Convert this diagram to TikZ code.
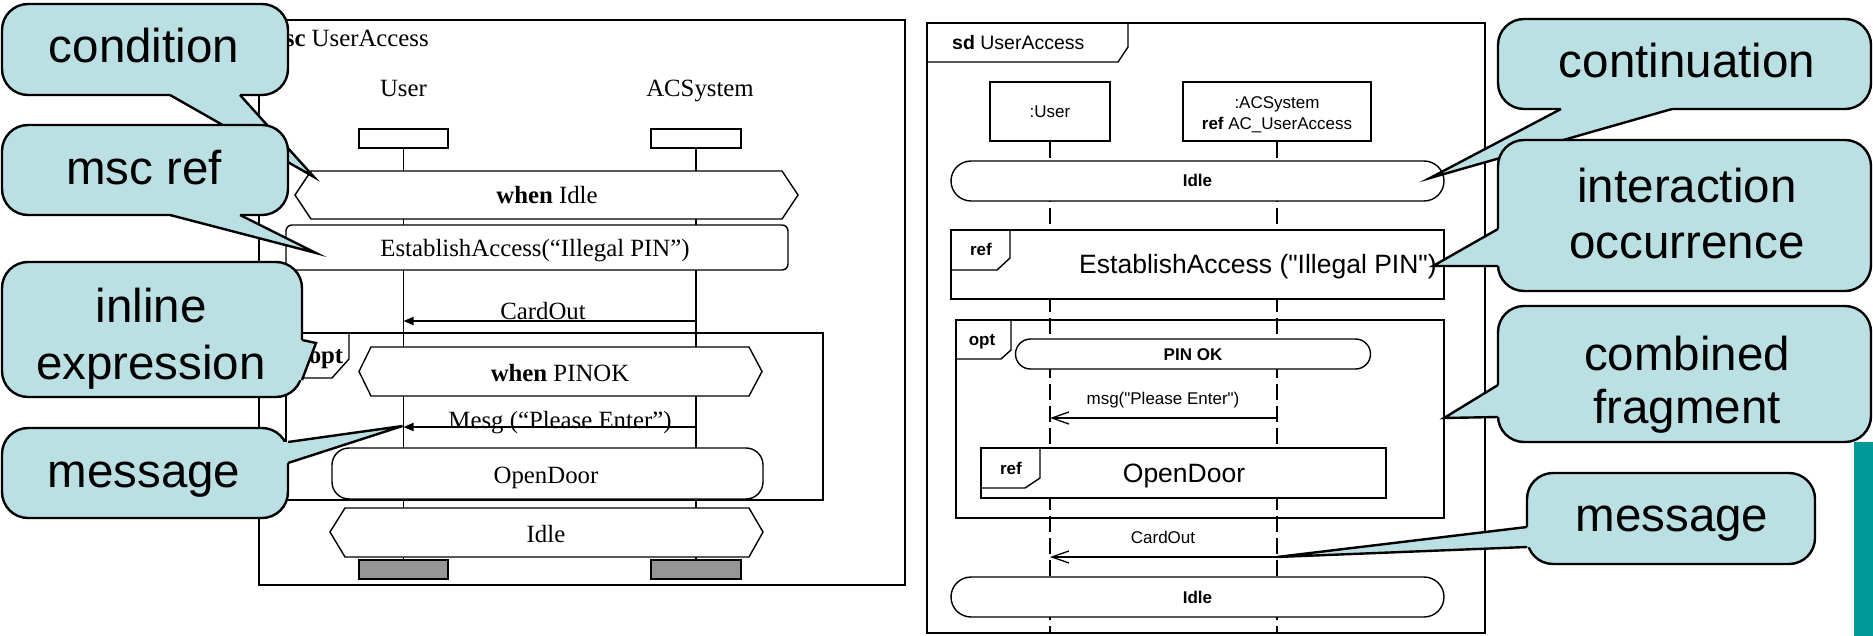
\documentclass[tikz,border=0pt]{standalone}
\usepackage{fontspec}
\setmainfont{Liberation Serif}
\newfontfamily\sansface{Liberation Sans}
\usetikzlibrary{arrows.meta}
\definecolor{callfill}{RGB}{187,224,227}
\definecolor{barteal}{RGB}{0,153,153}
\definecolor{stopgray}{RGB}{150,150,150}
% callout pointer: base point, tip, base point, then the two base points pushed into the box
\newcommand\calloutwedge[5]{%
  \fill[callfill] #1 -- #2 -- #3 -- #4 -- #5 -- cycle;
  \draw[wedgeline] #1 -- #2 -- #3;}
\begin{document}
\begin{tikzpicture}[x=1pt,y=-1pt,
  ln/.style={line width=1.4pt},
  mscfont/.style={font=\fontsize{24.8}{28}\selectfont, inner sep=0pt},
  sdsmall/.style={font=\sansface\fontsize{17}{20}\selectfont, inner sep=0pt},
  sdtitle/.style={font=\sansface\fontsize{19.5}{22}\selectfont, inner sep=0pt},
  sdbig/.style={font=\sansface\fontsize{26.5}{30}\selectfont, inner sep=0pt},
  calltext/.style={font=\sansface\fontsize{47.5}{55}\selectfont, inner sep=0pt},
  whitebox/.style={draw, line width=1.4pt, fill=white, inner sep=0pt},
  stopbox/.style={draw, line width=1.4pt, fill=stopgray, inner sep=0pt},
  stadium/.style={whitebox, rounded corners=#1},
  callbox/.style={draw, line width=2.4pt, fill=callfill, rounded corners=26, inner sep=0pt},
  wedgeline/.style={line width=2.4pt},
  msgfilled/.style={line width=1.8pt, -{Triangle[length=10pt,width=8pt]}},
  msgopen/.style={line width=1.3pt, -{Straight Barb[length=17pt,width=12pt]}},
  lifedash/.style={line width=1.3pt, dash pattern=on 16pt off 6pt},
]
\useasboundingbox (0,0) rectangle (1873,636);

% ---------------- MSC diagram ----------------
\draw[ln] (259,20) rectangle (905,585);
\node[mscfont, anchor=base west] (msctitle) at (264,47) {\textbf{msc} UserAccess};
\node[mscfont, anchor=base] (userlbl) at (403.5,97) {User};
\node[mscfont, anchor=base] (aclbl) at (700,97) {ACSystem};
\node[whitebox, minimum width=89, minimum height=19] (uhead) at (403.5,138.5) {};
\node[whitebox, minimum width=90, minimum height=19] (ahead) at (696,138.5) {};
\node[stopbox, minimum width=89, minimum height=19] (ustop) at (403.5,569.5) {};
\node[stopbox, minimum width=90, minimum height=19] (astop) at (696,569.5) {};
\draw[ln] (uhead.south) -- (ustop.north);
\draw[ln] (ahead.south) -- (astop.north);

% condition
\draw[ln, fill=white] (295,195) -- (311,171) -- (782,171) -- (798,195) -- (782,219) -- (311,219) -- cycle;
\node[mscfont, anchor=base] (whenidle) at (547,204) {\textbf{when} Idle};
% reference
\node[whitebox, rounded corners=6, minimum width=502, minimum height=45] (estab) at (537,247.5) {};
\node[mscfont, anchor=base] (estabtxt) at (535,257) {EstablishAccess(“Illegal PIN”)};
% message CardOut
\coordinate (cardA) at (696,321);
\coordinate (cardU) at (403.5,321);
\draw[msgfilled] (cardA) -- (cardU);
\node[mscfont, anchor=base] (cardlbl) at (543,319) {CardOut};
% inline expression opt
\draw[ln] (286,333) rectangle (823,500);
\draw[ln] (349,333) -- (349,359) -- (332,378) -- (286,378);
\node[mscfont, anchor=base] (optlbl) at (326,363) {\textbf{opt}};
\draw[ln, fill=white] (359,371.5) -- (371,347) -- (749,347) -- (762,371.5) -- (749,396) -- (371,396) -- cycle;
\node[mscfont, anchor=base] (whenpin) at (560,381) {\textbf{when} PINOK};
\coordinate (mesgA) at (696,427);
\coordinate (mesgU) at (403.5,427);
\draw[msgfilled] (mesgA) -- (mesgU);
\node[mscfont, anchor=base] (mesglbl) at (560,428) {Mesg (“Please Enter”)};
\node[whitebox, rounded corners=17, minimum width=431, minimum height=51] (opendoor) at (547.5,473.5) {};
\node[mscfont, anchor=base] (opendoortxt) at (546,483) {OpenDoor};
% final condition
\draw[ln, fill=white] (330,532) -- (345,508) -- (749,508) -- (763,532) -- (749,557) -- (345,557) -- cycle;
\node[mscfont, anchor=base] (idleleft) at (546,542) {Idle};

% ---------------- UML sequence diagram ----------------
\draw[ln] (927,23) rectangle (1485,633);
\draw[ln] (1128,23) -- (1128,47) -- (1118,62) -- (927,62);
\node[sdtitle, anchor=base west] (sdtitle) at (952,49.5) {\textbf{sd} UserAccess};
\node[whitebox, minimum width=120, minimum height=59] (suser) at (1050,111.5) {};
\node[sdsmall, anchor=base] (susertxt) at (1050,118) {:User};
\node[whitebox, minimum width=188, minimum height=59] (sac) at (1277,111.5) {};
\node[sdsmall, anchor=base] (sactxt) at (1277,109) {:ACSystem};
\node[sdsmall, anchor=base] (sacref) at (1277,130) {\textbf{ref} AC\_UserAccess};
\coordinate (ubottom) at (1050,633);
\coordinate (abottom) at (1277,633);
\draw[lifedash] (suser.south) -- (ubottom);
\draw[lifedash] (sac.south) -- (abottom);

% continuation
\node[stadium=20, minimum width=493, minimum height=40] (cont1) at (1197.5,181) {};
\node[sdsmall, anchor=base] (cont1txt) at (1197.5,187) {\textbf{Idle}};
% interaction occurrence
\node[whitebox, minimum width=493, minimum height=69] (refest) at (1197.5,264.5) {};
\draw[ln] (1010,230) -- (1010,258) -- (997,270) -- (951,270);
\node[sdsmall, anchor=base] (refest1) at (981,256) {\textbf{ref}};
\node[sdbig, anchor=base] (refest2) at (1258,273) {EstablishAccess ("Illegal PIN")};
% combined fragment opt
\draw[ln] (956,320) rectangle (1444,518);
\draw[ln] (1011,320) -- (1011,350) -- (1001,359) -- (956,359);
\node[sdsmall, anchor=base] (sdopt) at (982,345) {\textbf{opt}};
\node[stadium=15, minimum width=355, minimum height=30] (pinok) at (1193,354) {};
\node[sdsmall, anchor=base] (pinoktxt) at (1193,360) {\textbf{PIN OK}};
\coordinate (msgA) at (1277,418);
\coordinate (msgU) at (1050,418);
\draw[msgopen] (msgA) -- (msgU);
\node[sdsmall, anchor=base] (msglbl) at (1163,404) {msg("Please Enter")};
\node[whitebox, minimum width=405, minimum height=50] (refod) at (1183.5,473) {};
\draw[ln] (1040,448) -- (1040,478) -- (1025,488) -- (981,488);
\node[sdsmall, anchor=base] (refod1) at (1011,474) {\textbf{ref}};
\node[sdbig, anchor=base] (refod2) at (1184,482) {OpenDoor};
% message CardOut
\coordinate (scardA) at (1277,557);
\coordinate (scardU) at (1050,557);
\draw[msgopen] (scardA) -- (scardU);
\node[sdsmall, anchor=base] (scardlbl) at (1163,543) {CardOut};
% continuation
\node[stadium=20, minimum width=493, minimum height=40] (cont2) at (1197.5,597) {};
\node[sdsmall, anchor=base] (cont2txt) at (1197.5,603) {\textbf{Idle}};

% side bar
\fill[barteal] (1854,442) rectangle (1873,636);

% ---------------- callouts ----------------
\coordinate (tipCond) at (314,177);
\node[callbox, minimum width=286, minimum height=91] (cCond) at (145,49.5) {};
\calloutwedge{(170,95)}{(tipCond)}{(240,95)}{(240,90)}{(170,90)}
\node[calltext, anchor=base] (tCond) at (144,63) {condition};

\coordinate (tipRef) at (316,253);
\node[callbox, minimum width=286, minimum height=90] (cRef) at (145,170) {};
\calloutwedge{(170,215)}{(tipRef)}{(240,215)}{(240,210)}{(170,210)}
\node[calltext, anchor=base] (tRef) at (144,185) {msc ref};

\coordinate (tipInl) at (316,343);
\node[callbox, minimum width=300, minimum height=135] (cInl) at (152,329.5) {};
\calloutwedge{(302,340)}{(tipInl)}{(302,380)}{(297,380)}{(297,340)}
\node[calltext, anchor=base] (tInl1) at (151,322) {inline};
\node[calltext, anchor=base] (tInl2) at (151,379) {expression};

\coordinate (tipMsgL) at (402.5,426);
\node[callbox, minimum width=286, minimum height=90] (cMsgL) at (145,473) {};
\calloutwedge{(288,442)}{(tipMsgL)}{(288,463)}{(283,463)}{(283,442)}
\node[calltext, anchor=base] (tMsgL) at (144,487) {message};

\coordinate (tipCont) at (1430,178);
\node[callbox, minimum width=373, minimum height=90] (cCont) at (1684.5,64) {};
\calloutwedge{(1561,109)}{(tipCont)}{(1672,109)}{(1672,104)}{(1561,104)}
\node[calltext, anchor=base] (tCont) at (1687,78) {continuation};

\coordinate (tipInt) at (1433,266);
\node[callbox, minimum width=373, minimum height=151] (cInt) at (1684.5,215.5) {};
\calloutwedge{(1498,229)}{(tipInt)}{(1498,266)}{(1503,266)}{(1503,229)}
\node[calltext, anchor=base] (tInt1) at (1687,203) {interaction};
\node[calltext, anchor=base] (tInt2) at (1687,259) {occurrence};

\coordinate (tipComb) at (1444,418);
\node[callbox, minimum width=373, minimum height=136] (cComb) at (1684.5,374) {};
\calloutwedge{(1498,385)}{(tipComb)}{(1498,417)}{(1503,417)}{(1503,385)}
\node[calltext, anchor=base] (tComb1) at (1687,370) {combined};
\node[calltext, anchor=base] (tComb2) at (1687,423) {fragment};

\coordinate (tipMsgR) at (1277,557);
\node[callbox, minimum width=288, minimum height=91] (cMsgR) at (1671,518.5) {};
\calloutwedge{(1527,527)}{(tipMsgR)}{(1527,547)}{(1532,547)}{(1532,527)}
\node[calltext, anchor=base] (tMsgR) at (1672,531) {message};
\end{tikzpicture}
\end{document}
